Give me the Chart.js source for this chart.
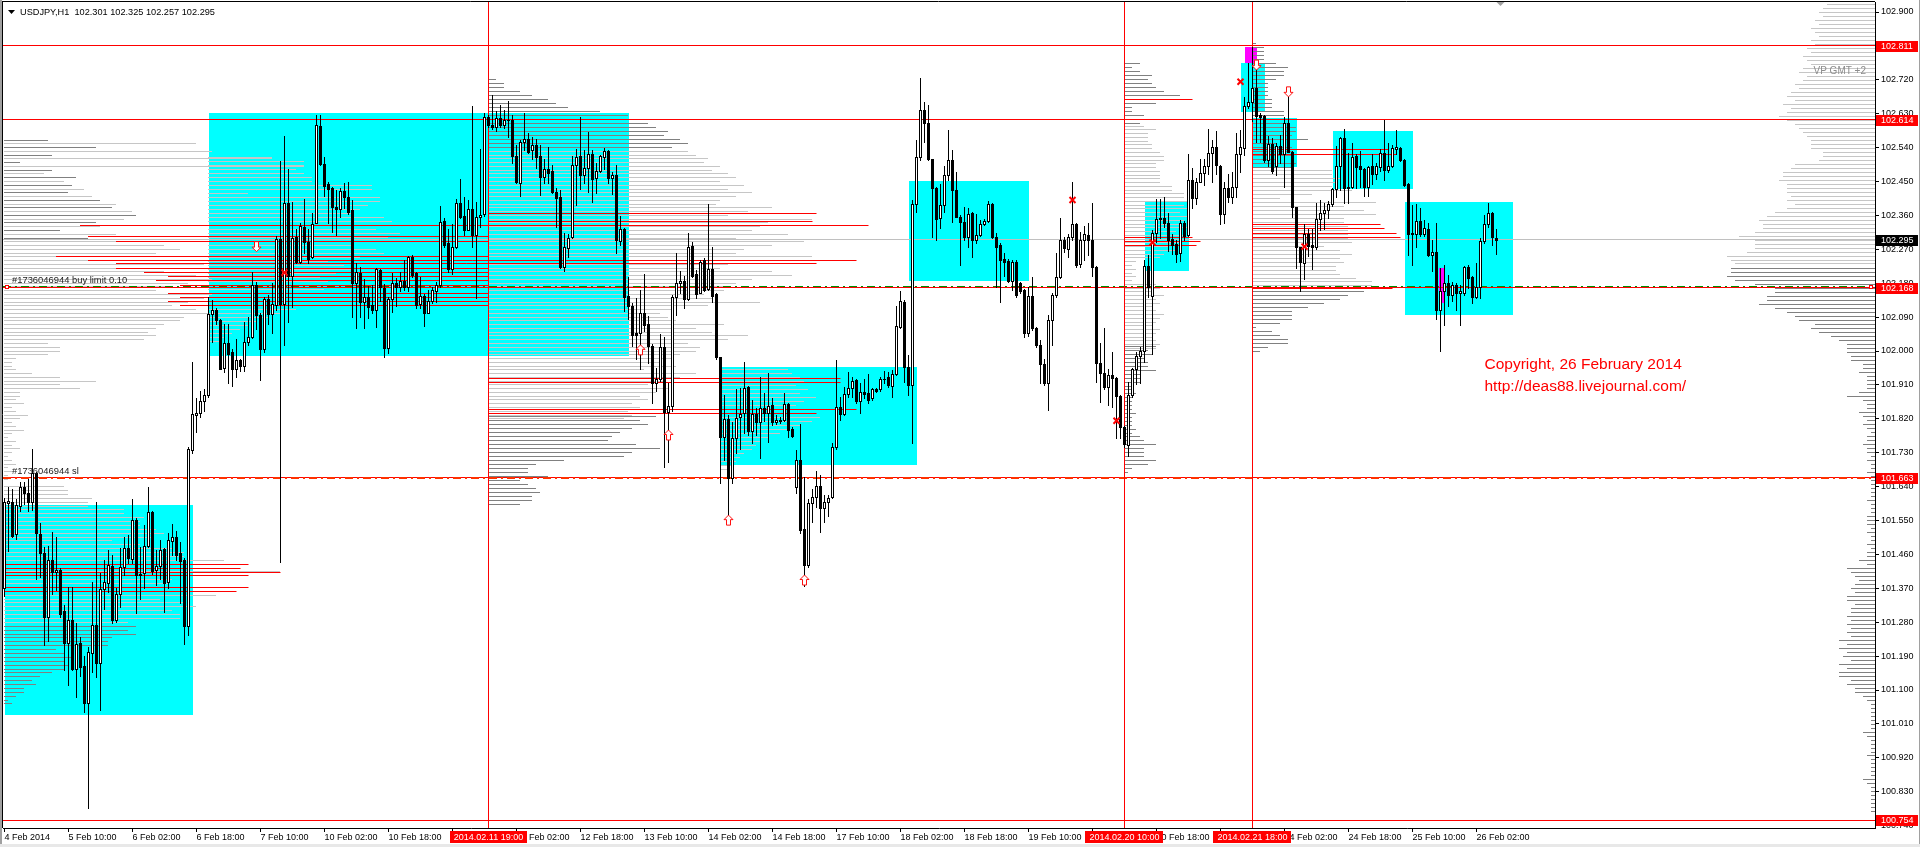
<!DOCTYPE html>
<html>
<head>
<meta charset="utf-8">
<script src="https://cdn.jsdelivr.net/npm/chart.js@4.4.1/dist/chart.umd.min.js"></script>
<style>
  html, body { margin: 0; padding: 0; background: #fff; overflow: hidden; }
  canvas { display: block; }
</style>
</head>
<body>
<canvas id="usdjpyChart" width="1920" height="847"></canvas>
<script>
// USDJPY H1, 4 Feb 18:00 .. 26 Feb 07:00 (one bar per hour, weekends skipped)
const opens = [
  101.37, 101.596, 101.60, 101.513, 101.588, 101.638, 101.622, 101.60, 101.675, 101.514,
  101.465, 101.293, 101.445, 101.413, 101.418, 101.31, 101.224, 101.286, 101.157, 101.225,
  101.163, 101.066, 101.197, 101.272, 101.172, 101.367, 101.385, 101.429, 101.286, 101.355,
  101.427, 101.476, 101.447, 101.551, 101.405, 101.41, 101.482, 101.572, 101.418, 101.428,
  101.474, 101.388, 101.496, 101.507, 101.463, 101.445, 101.27, 101.736, 101.83, 101.836,
  101.866, 101.882, 102.098, 102.11, 102.083, 101.955, 102.02, 101.998, 101.953, 101.977,
  101.961, 102.025, 102.037, 102.175, 102.096, 102.004, 102.138, 102.098, 102.122, 102.297,
  102.126, 102.394, 102.199, 102.303, 102.235, 102.33, 102.29, 102.25, 102.341, 102.597,
  102.497, 102.443, 102.432, 102.383, 102.376, 102.425, 102.41, 102.374, 102.18, 102.208,
  102.131, 102.144, 102.122, 102.11, 102.215, 102.166, 102.007, 102.137, 102.181, 102.171,
  102.187, 102.171, 102.25, 102.208, 102.126, 102.146, 102.102, 102.133, 102.158, 102.175,
  102.346, 102.286, 102.219, 102.277, 102.392, 102.358, 102.321, 102.376, 102.308, 102.355,
  102.363, 102.622, 102.60, 102.594, 102.618, 102.60, 102.614, 102.613, 102.518, 102.447,
  102.556, 102.562, 102.533, 102.547, 102.518, 102.461, 102.482, 102.478, 102.423, 102.408,
  102.224, 102.273, 102.302, 102.494, 102.518, 102.467, 102.485, 102.523, 102.458, 102.479,
  102.516, 102.531, 102.458, 102.467, 102.293, 102.323, 102.146, 102.12, 102.047, 102.047,
  102.102, 102.072, 102.013, 101.916, 101.925, 102.011, 101.839, 101.854, 102.143, 102.18,
  102.187, 102.137, 102.279, 102.204, 102.155, 102.242, 102.164, 102.219, 102.151, 101.983,
  101.773, 101.819, 101.662, 101.768, 101.824, 101.836, 101.904, 101.788, 101.833, 101.812,
  101.85, 101.836, 101.857, 101.812, 101.818, 101.818, 101.859, 101.792, 101.64, 101.711,
  101.527, 101.432, 101.597, 101.612, 101.642, 101.582, 101.60, 101.612, 101.746, 101.852,
  101.834, 101.886, 101.903, 101.923, 101.866, 101.89, 101.888, 101.874, 101.898, 101.898,
  101.927, 101.93, 101.907, 101.939, 102.064, 102.131, 101.957, 101.91, 102.39, 102.514,
  102.64, 102.604, 102.509, 102.432, 102.352, 102.387, 102.467, 102.507, 102.427, 102.355,
  102.343, 102.302, 102.367, 102.295, 102.308, 102.338, 102.345, 102.39, 102.302, 102.281,
  102.243, 102.239, 102.186, 102.237, 102.18, 102.162, 102.047, 102.146, 102.06, 102.016,
  101.965, 101.914, 102.081, 102.149, 102.196, 102.295, 102.27, 102.302, 102.337, 102.231,
  102.295, 102.308, 102.296, 102.224, 101.967, 101.941, 101.905, 101.936, 101.928, 101.881,
  101.799, 101.75, 101.883, 101.951, 101.987, 102.001, 102.226, 102.146, 102.312, 102.35,
  102.352, 102.341, 102.297, 102.284, 102.259, 102.339, 102.308, 102.454, 102.405, 102.45,
  102.472, 102.49, 102.525, 102.541, 102.492, 102.364, 102.432, 102.41, 102.435, 102.523,
  102.538, 102.65, 102.662, 102.697, 102.626, 102.624, 102.507, 102.55, 102.49, 102.544,
  102.523, 102.606, 102.529, 102.381, 102.275, 102.233, 102.311, 102.282, 102.275, 102.35,
  102.367, 102.374, 102.39, 102.429, 102.491, 102.565, 102.436, 102.436, 102.518, 102.491,
  102.482, 102.436, 102.49, 102.47, 102.489, 102.525, 102.481, 102.491, 102.536, 102.538,
  102.507, 102.443, 102.314, 102.311, 102.346, 102.311, 102.323, 102.255, 102.264, 102.11,
  102.158, 102.18, 102.149, 102.175, 102.153, 102.153, 102.222, 102.196, 102.144, 102.17,
  102.293, 102.337, 102.367, 102.301
];
const highs = [
  101.61, 101.64, 101.633, 101.606, 101.653, 101.651, 101.66, 101.741, 101.68, 101.544,
  101.48, 101.482, 101.52, 101.507, 101.423, 101.326, 101.374, 101.374, 101.279, 101.241,
  101.19, 101.215, 101.387, 101.60, 101.411, 101.445, 101.472, 101.458, 101.37, 101.476,
  101.507, 101.511, 101.606, 101.556, 101.479, 101.537, 101.64, 101.576, 101.471, 101.498,
  101.476, 101.518, 101.54, 101.523, 101.494, 101.45, 101.745, 101.97, 101.876, 101.894,
  101.898, 102.144, 102.135, 102.114, 102.086, 102.071, 102.073, 102.004, 102.031, 101.98,
  102.077, 102.09, 102.211, 102.183, 102.102, 102.144, 102.15, 102.181, 102.305, 102.504,
  102.571, 102.483, 102.396, 102.325, 102.34, 102.403, 102.325, 102.366, 102.627, 102.627,
  102.516, 102.45, 102.436, 102.427, 102.432, 102.447, 102.45, 102.401, 102.234, 102.224,
  102.19, 102.172, 102.175, 102.221, 102.217, 102.177, 102.144, 102.206, 102.193, 102.21,
  102.241, 102.252, 102.255, 102.21, 102.197, 102.151, 102.162, 102.171, 102.184, 102.385,
  102.352, 102.325, 102.337, 102.403, 102.456, 102.408, 102.401, 102.65, 102.396, 102.535,
  102.633, 102.627, 102.68, 102.638, 102.653, 102.64, 102.664, 102.627, 102.547, 102.56,
  102.631, 102.578, 102.569, 102.564, 102.547, 102.511, 102.542, 102.494, 102.432, 102.427,
  102.312, 102.31, 102.518, 102.535, 102.62, 102.533, 102.582, 102.533, 102.50, 102.52,
  102.54, 102.533, 102.476, 102.494, 102.358, 102.326, 102.196, 102.128, 102.142, 102.162,
  102.204, 102.093, 102.019, 101.954, 102.045, 102.038, 101.916, 102.149, 102.261, 102.213,
  102.199, 102.312, 102.29, 102.215, 102.242, 102.246, 102.39, 102.277, 102.153, 101.985,
  101.883, 101.83, 101.812, 101.898, 101.901, 101.97, 101.907, 101.87, 101.848, 101.93,
  101.888, 101.941, 101.874, 101.83, 101.826, 101.888, 101.861, 101.799, 101.737, 101.806,
  101.666, 101.606, 101.633, 101.682, 101.671, 101.618, 101.618, 101.757, 101.976, 101.879,
  101.905, 101.945, 101.932, 101.927, 101.916, 101.927, 101.939, 101.901, 101.903, 101.932,
  101.948, 101.945, 101.95, 102.12, 102.16, 102.135, 101.989, 102.40, 102.56, 102.724,
  102.662, 102.653, 102.51, 102.436, 102.443, 102.491, 102.587, 102.534, 102.476, 102.361,
  102.383, 102.379, 102.37, 102.365, 102.348, 102.35, 102.399, 102.392, 102.312, 102.286,
  102.259, 102.243, 102.242, 102.242, 102.184, 102.164, 102.169, 102.197, 102.065, 102.029,
  101.978, 102.096, 102.153, 102.261, 102.352, 102.303, 102.311, 102.449, 102.339, 102.317,
  102.332, 102.339, 102.392, 102.226, 102.02, 102.06, 101.951, 101.998, 101.932, 101.883,
  101.80, 101.918, 101.954, 101.998, 102.01, 102.242, 102.255, 102.321, 102.403, 102.403,
  102.41, 102.366, 102.31, 102.296, 102.348, 102.346, 102.522, 102.485, 102.46, 102.51,
  102.51, 102.589, 102.56, 102.585, 102.494, 102.45, 102.47, 102.474, 102.578, 102.587,
  102.675, 102.764, 102.808, 102.768, 102.631, 102.627, 102.571, 102.565, 102.553, 102.573,
  102.62, 102.689, 102.532, 102.383, 102.277, 102.337, 102.323, 102.323, 102.392, 102.401,
  102.394, 102.399, 102.434, 102.544, 102.567, 102.589, 102.526, 102.551, 102.523, 102.532,
  102.485, 102.491, 102.523, 102.498, 102.536, 102.613, 102.551, 102.547, 102.587, 102.541,
  102.509, 102.445, 102.388, 102.39, 102.379, 102.348, 102.341, 102.295, 102.341, 102.22,
  102.228, 102.202, 102.184, 102.18, 102.175, 102.226, 102.228, 102.199, 102.233, 102.301,
  102.36, 102.394, 102.37, 102.325
];
const lows = [
  101.35, 101.47, 101.505, 101.50, 101.576, 101.595, 101.576, 101.578, 101.396, 101.401,
  101.22, 101.231, 101.355, 101.365, 101.295, 101.153, 101.113, 101.153, 101.082, 101.137,
  101.042, 100.786, 101.148, 101.135, 101.048, 101.314, 101.361, 101.279, 101.281, 101.321,
  101.405, 101.436, 101.436, 101.305, 101.342, 101.37, 101.479, 101.408, 101.38, 101.396,
  101.308, 101.37, 101.458, 101.445, 101.33, 101.222, 101.246, 101.73, 101.785, 101.825,
  101.84, 101.878, 102.025, 102.071, 101.952, 101.943, 101.915, 101.907, 101.931, 101.947,
  101.947, 102.016, 102.035, 102.059, 101.922, 101.998, 102.071, 102.047, 102.11, 101.44,
  102.016, 102.077, 102.118, 102.233, 102.233, 102.259, 102.233, 102.246, 102.339, 102.494,
  102.412, 102.339, 102.317, 102.308, 102.355, 102.379, 102.364, 102.091, 102.06, 102.091,
  102.06, 102.087, 102.10, 102.064, 102.134, 101.985, 101.994, 102.104, 102.12, 102.158,
  102.162, 102.158, 102.197, 102.113, 102.113, 102.066, 102.10, 102.128, 102.131, 102.171,
  102.277, 102.21, 102.204, 102.273, 102.352, 102.308, 102.32, 102.275, 102.14, 102.33,
  102.358, 102.596, 102.589, 102.583, 102.594, 102.591, 102.569, 102.50, 102.447, 102.411,
  102.533, 102.525, 102.511, 102.485, 102.414, 102.445, 102.445, 102.42, 102.328, 102.22,
  102.213, 102.249, 102.299, 102.387, 102.429, 102.445, 102.423, 102.396, 102.42, 102.476,
  102.482, 102.445, 102.418, 102.261, 102.282, 102.105, 102.084, 102.013, 101.978, 101.951,
  102.054, 101.967, 101.863, 101.895, 101.921, 101.691, 101.706, 101.842, 102.096, 102.155,
  102.113, 102.135, 102.197, 102.14, 102.153, 102.16, 102.162, 102.131, 101.98, 101.649,
  101.711, 101.565, 101.649, 101.73, 101.739, 101.781, 101.777, 101.757, 101.777, 101.715,
  101.815, 101.759, 101.803, 101.806, 101.808, 101.815, 101.771, 101.771, 101.624, 101.516,
  101.376, 101.427, 101.547, 101.587, 101.52, 101.547, 101.562, 101.609, 101.739, 101.818,
  101.83, 101.879, 101.877, 101.863, 101.836, 101.874, 101.861, 101.87, 101.892, 101.895,
  101.916, 101.905, 101.877, 101.936, 102.06, 101.919, 101.883, 101.755, 102.37, 102.507,
  102.556, 102.507, 102.303, 102.295, 102.326, 102.37, 102.454, 102.343, 102.357, 102.228,
  102.295, 102.277, 102.25, 102.286, 102.305, 102.334, 102.343, 102.30, 102.171, 102.131,
  102.198, 102.184, 102.162, 102.144, 102.153, 102.036, 102.04, 102.057, 102.011, 101.916,
  101.91, 101.843, 102.016, 102.144, 102.193, 102.264, 102.25, 102.295, 102.224, 102.222,
  102.241, 102.255, 102.199, 101.918, 101.865, 101.90, 101.857, 101.852, 101.768, 101.768,
  101.746, 101.721, 101.879, 101.912, 101.916, 101.972, 102.144, 101.992, 102.29, 102.30,
  102.33, 102.266, 102.257, 102.235, 102.24, 102.295, 102.305, 102.38, 102.389, 102.45,
  102.44, 102.47, 102.45, 102.47, 102.336, 102.34, 102.396, 102.393, 102.41, 102.476,
  102.52, 102.645, 102.61, 102.556, 102.556, 102.503, 102.491, 102.473, 102.467, 102.50,
  102.436, 102.527, 102.355, 102.22, 102.158, 102.19, 102.252, 102.217, 102.27, 102.321,
  102.323, 102.352, 102.385, 102.41, 102.428, 102.394, 102.394, 102.434, 102.432, 102.436,
  102.412, 102.412, 102.443, 102.456, 102.479, 102.454, 102.476, 102.488, 102.523, 102.505,
  102.438, 102.255, 102.228, 102.277, 102.305, 102.305, 102.252, 102.213, 102.084, 102.001,
  102.069, 102.12, 102.134, 102.11, 102.069, 102.149, 102.166, 102.128, 102.142, 102.142,
  102.286, 102.33, 102.281, 102.257
];
const closes = [
  101.60, 101.601, 101.508, 101.591, 101.638, 101.622, 101.598, 101.675, 101.516, 101.465,
  101.293, 101.445, 101.414, 101.418, 101.303, 101.226, 101.286, 101.156, 101.222, 101.162,
  101.066, 101.201, 101.272, 101.172, 101.367, 101.387, 101.431, 101.286, 101.355, 101.426,
  101.476, 101.45, 101.551, 101.405, 101.408, 101.482, 101.572, 101.417, 101.429, 101.471,
  101.385, 101.498, 101.507, 101.458, 101.443, 101.27, 101.739, 101.833, 101.836, 101.866,
  101.882, 102.098, 102.11, 102.083, 101.953, 102.02, 101.992, 101.953, 101.976, 101.961,
  102.025, 102.037, 102.175, 102.096, 102.004, 102.138, 102.098, 102.126, 102.297, 102.126,
  102.394, 102.199, 102.30, 102.237, 102.332, 102.29, 102.243, 102.336, 102.60, 102.497,
  102.438, 102.43, 102.381, 102.376, 102.425, 102.408, 102.37, 102.18, 102.211, 102.131,
  102.144, 102.118, 102.11, 102.217, 102.169, 102.007, 102.137, 102.181, 102.171, 102.187,
  102.171, 102.25, 102.202, 102.122, 102.146, 102.10, 102.133, 102.162, 102.175, 102.343,
  102.281, 102.219, 102.275, 102.394, 102.357, 102.321, 102.376, 102.308, 102.357, 102.362,
  102.62, 102.60, 102.594, 102.618, 102.60, 102.614, 102.612, 102.518, 102.45, 102.556,
  102.564, 102.529, 102.547, 102.516, 102.461, 102.482, 102.473, 102.423, 102.405, 102.222,
  102.275, 102.299, 102.494, 102.514, 102.467, 102.485, 102.523, 102.456, 102.479, 102.518,
  102.531, 102.458, 102.467, 102.295, 102.323, 102.143, 102.12, 102.043, 102.043, 102.10,
  102.069, 102.012, 101.916, 101.925, 102.011, 101.839, 101.854, 102.143, 102.18, 102.187,
  102.137, 102.277, 102.199, 102.151, 102.237, 102.162, 102.219, 102.146, 101.983, 101.773,
  101.819, 101.662, 101.768, 101.821, 101.834, 101.901, 101.788, 101.833, 101.812, 101.85,
  101.835, 101.854, 101.812, 101.818, 101.815, 101.859, 101.79, 101.774, 101.711, 101.525,
  101.432, 101.597, 101.612, 101.642, 101.582, 101.60, 101.609, 101.746, 101.852, 101.834,
  101.886, 101.901, 101.921, 101.866, 101.89, 101.886, 101.87, 101.898, 101.895, 101.927,
  101.926, 101.91, 101.939, 102.066, 102.134, 101.957, 101.91, 102.39, 102.514, 102.64,
  102.604, 102.509, 102.432, 102.35, 102.387, 102.467, 102.507, 102.427, 102.357, 102.343,
  102.302, 102.365, 102.295, 102.308, 102.338, 102.345, 102.39, 102.302, 102.277, 102.242,
  102.237, 102.186, 102.237, 102.149, 102.16, 102.047, 102.146, 102.06, 102.016, 101.965,
  101.914, 102.082, 102.149, 102.196, 102.295, 102.273, 102.302, 102.337, 102.228, 102.295,
  102.311, 102.296, 102.222, 101.967, 101.941, 101.905, 101.936, 101.928, 101.881, 101.799,
  101.753, 101.883, 101.951, 101.987, 102.001, 102.226, 102.171, 102.312, 102.35, 102.353,
  102.341, 102.295, 102.282, 102.257, 102.339, 102.305, 102.454, 102.405, 102.45, 102.472,
  102.49, 102.525, 102.541, 102.494, 102.364, 102.432, 102.41, 102.435, 102.523, 102.541,
  102.65, 102.662, 102.697, 102.624, 102.621, 102.507, 102.55, 102.479, 102.544, 102.523,
  102.606, 102.529, 102.381, 102.275, 102.235, 102.311, 102.279, 102.275, 102.35, 102.367,
  102.374, 102.39, 102.429, 102.491, 102.565, 102.432, 102.432, 102.516, 102.488, 102.482,
  102.436, 102.488, 102.47, 102.491, 102.525, 102.481, 102.491, 102.538, 102.541, 102.507,
  102.441, 102.311, 102.311, 102.346, 102.311, 102.326, 102.255, 102.264, 102.11, 102.158,
  102.18, 102.149, 102.175, 102.153, 102.16, 102.222, 102.193, 102.144, 102.17, 102.293,
  102.337, 102.367, 102.302, 102.295
];

// axis ticks
const yTicks = [100.74, 100.83, 100.92, 101.01, 101.10, 101.19, 101.28, 101.37, 101.46, 101.55,
  101.64, 101.73, 101.82, 101.91, 102.00, 102.09, 102.18, 102.27, 102.36, 102.45,
  102.54, 102.63, 102.72, 102.81, 102.90];
const xTickIdx = [0, 16, 32, 48, 64, 80, 96, 112, 128, 144, 160, 176, 192, 208, 224, 240,
  256, 272, 288, 304, 320, 336, 352, 368];
const xTickLabels = ['4 Feb 2014', '5 Feb 10:00', '6 Feb 02:00', '6 Feb 18:00', '7 Feb 10:00',
  '10 Feb 02:00', '10 Feb 18:00', '11 Feb 10:00', '12 Feb 02:00', '12 Feb 18:00', '13 Feb 10:00',
  '14 Feb 02:00', '14 Feb 18:00', '17 Feb 10:00', '18 Feb 02:00', '18 Feb 18:00', '19 Feb 10:00',
  '20 Feb 02:00', '20 Feb 18:00', '21 Feb 10:00', '24 Feb 02:00', '24 Feb 18:00', '25 Feb 10:00',
  '26 Feb 02:00'];

// levels and objects
const hLevels = [102.811, 102.614, 100.754];
const orderPrice = 102.168;
const slPrice = 101.663;
const bidPrice = 102.295;
const vLineIdx = [121, 280, 312];
const vLineLabels = ['2014.02.11 19:00', '2014.02.20 10:00', '2014.02.21 18:00'];
const priceMarks = [102.811, 102.614, 102.168, 101.663, 100.754];
// [fromBar, toBar, priceTop, priceBottom]
const cyanBoxes = [
  [0, 47, 101.591, 101.034], [51, 156, 102.633, 101.988], [179, 228, 101.957, 101.697],
  [226, 256, 102.451, 102.186], [285, 296, 102.396, 102.213], [309, 315, 102.764, 102.635],
  [312, 323, 102.618, 102.488], [332, 352, 102.584, 102.430], [350, 377, 102.396, 102.096]
];
const magentaBoxes = [[310, 313, 102.806, 102.764], [358.6, 360.1, 102.22, 102.128]];
// [fromBar, toBar, price]
const redSegs = [
  [0, 61, 101.434], [0, 59, 101.423], [0, 69, 101.412], [0, 61, 101.403], [0, 61, 101.372], [0, 58, 101.361],
  [19, 216, 102.334], [21, 121, 102.303], [28, 121, 102.290], [13, 121, 102.252], [21, 213, 102.241],
  [28, 203, 102.231], [28, 121, 102.219], [35, 121, 102.209], [41, 121, 102.197], [38, 121, 102.187],
  [44, 121, 102.175], [41, 121, 102.153], [44, 121, 102.142], [41, 121, 102.131], [44, 121, 102.120],
  [121, 203, 102.366], [121, 202, 102.345],
  [121, 209, 101.927], [121, 209, 101.917], [121, 213, 101.845], [121, 203, 101.835],
  [280, 297, 102.668], [280, 297, 102.302], [280, 299, 102.291], [280, 298, 102.280],
  [312, 346, 102.534], [312, 348, 102.523], [312, 344, 102.335], [312, 345, 102.324],
  [312, 348, 102.313], [312, 349, 102.302]
];
const redThick = [[312, 347, 102.169]];
const upArrows = [[159, 102.003], [166, 101.777], [181, 101.551], [200, 101.392]];
const downArrows = [[63, 102.277], [313, 102.759], [321, 102.688]];
const crosses = [[70, 102.208], [267, 102.401], [278, 101.815], [309, 102.715], [287, 102.288], [325, 102.277]];

// volume profiles, in bars of length, listed from the top price down
const pLeftDark = [11, 23, 12, 4, 12, 18, 17, 16, 24, 27, 33, 23, 14, 21];
const pLeftLightTop = [48, 52, 67, 75, 10, 15, 20, 22, 28, 32, 30, 24, 28, 34];
const pLeft = [40, 44, 38, 42, 46, 50, 44, 40, 48, 52, 46, 42, 38,
  52, 50, 46, 42, 48, 51, 45, 44, 40, 38, 36, 38, 35,
  11, 14, 14, 11, 3, 2, 2, 3, 7, 14, 23, 14, 19, 4, 4, 3, 5, 2, 3, 6, 4, 2, 3, 5, 2, 1, 3, 2, 4, 2, 1, 2, 3, 1, 2, 1, 1];
const pBox1Light = [15, 16, 16, 22, 21, 21, 30, 30, 35, 34, 34, 38, 40, 37, 27, 34, 42, 45, 45, 55,
  61, 59, 69, 61, 42, 41, 61, 58, 53, 39, 45, 48, 42, 44, 44, 31];
const pBox1Dark = [33, 31, 33, 27, 26, 26, 13, 15, 17, 15, 16, 15, 12, 9, 7, 8, 5, 5, 3, 1, 2];
const pBox2 = [16, 24, 24, 22, 24, 26, 26, 41, 41, 10, 43, 43, 40, 38, 36, 44, 46, 40, 42, 48, 45, 40,
  36, 42, 44, 38, 30, 34, 36, 32, 28, 30, 32, 29, 27, 26, 29, 24, 22, 18, 15, 12, 10, 8, 6, 4, 3];
const pBigTop = [2, 4, 4, 8, 11, 15, 17, 20, 28, 35, 38, 40, 42, 45, 44, 48, 50, 46];
const pBigMid = [50, 52, 55, 54, 58, 56, 60, 62, 58, 64, 60, 66, 62, 58,
  57, 71, 65, 60, 81, 70, 68, 66, 75, 62, 79, 71, 64, 62, 81,
  71, 60, 58, 71, 76, 66, 62, 60, 59, 54, 56, 68, 55, 46, 43, 45, 47, 59, 52, 56,
  65, 60, 50, 53, 52, 48, 46, 43, 47, 39, 52, 48, 44, 40, 45, 42, 38, 40, 36, 38, 35, 36, 34];
const pBigLow = [42, 38, 40, 36, 33, 31, 30, 37, 43, 36, 34, 19, 12, 10, 10, 15, 8, 10, 12, 13, 11, 11, 8];
const pBox3 = [17, 18, 20, 21, 19, 22, 20, 24, 21, 19, 18, 22, 25, 23, 20, 18, 15, 12, 10, 9, 8, 6, 5, 4, 3, 2];
const pFeb20Top = [4, 2, 4, 7, 6, 7, 8, 10, 14, 17, 8, 2, 2, 5, 4, 4];
const pFeb20Mid = [5, 8, 6, 6, 6, 7, 7, 9, 10, 10, 8, 8, 9, 9, 9, 9, 12, 12, 15, 15, 16, 15, 16, 14, 16,
  15, 14, 16, 13, 15, 12, 14, 11, 13, 10, 9, 3, 2, 3, 2, 3, 2, 8, 9, 7, 10, 8, 9, 7, 8, 10, 9, 8, 7, 9, 8, 7, 8, 9, 8];
const pFeb20Low = [8, 6, 7, 5, 6, 6, 8, 4, 4, 4, 2, 2, 3, 2, 2, 2, 2, 3, 2, 2, 2, 3, 2, 4, 5, 8, 5, 5, 5, 8, 6, 2, 1];
const pFeb21Top = [1, 3, 3, 3, 3, 6, 9, 8, 8, 6, 4, 4, 4, 4, 5, 5, 5, 8, 8, 6, 9, 11, 11, 10, 14, 6, 10, 10, 10, 6, 11, 10];
const pFeb21Mid = [20, 20, 22, 21, 20, 25, 15, 7, 31, 23, 28, 31, 23, 23, 24, 24, 24, 24, 25, 18, 22, 25, 22, 23, 21, 21, 22, 26, 30, 30];
const pFeb21Low = [28, 24, 22, 18, 14, 10, 10, 10, 7, 1, 5, 7, 9, 9, 4, 2];
const pRightLight = [12, 13, 14, 13, 15, 14, 16, 15, 14, 16, 15, 17, 16, 18, 17, 16, 18, 19, 17, 18,
  20, 19, 21, 22, 20, 23, 21, 22, 24, 22, 20, 19, 18, 17, 16, 16,
  16, 13, 13, 14, 20, 21, 23, 23, 24, 22, 22, 22, 21, 22, 20, 22, 25, 27, 29, 28,
  28, 30, 34, 30, 30, 30, 32, 37, 36, 35];
const pRightDark = [36, 36, 37, 35, 30, 25, 25, 27, 27, 29, 25, 22, 20, 19, 15, 16, 14, 11, 9, 7,
  7, 7, 6, 6, 3, 3, 4, 2, 2, 2, 2, 4, 7,
  3, 2, 2, 4, 3, 2, 3, 2, 1, 2, 2, 3, 2,
  2, 1, 2, 1, 1, 2, 1, 1, 1, 1, 1, 1, 2, 1, 1, 1, 2, 2, 2, 1, 2, 1, 1, 2, 1, 2,
  2, 4, 2, 7, 6, 5, 4, 5, 6, 5, 7, 7, 5, 6, 6, 7, 6, 7, 6, 7, 6, 9, 7, 9, 7, 8, 6, 9, 7, 9,
  9, 6, 7, 5, 5, 3, 2, 1, 1, 1, 1, 1,
  1, 1, 3, 2, 1, 1, 1, 1, 2, 1, 1, 1, 1, 1, 3, 2, 1, 1, 1, 1, 1, 1, 1];

const LIGHT = '#c6c6c6';
const DARK = '#808080';
const FONT = '"Liberation Sans", Arial, sans-serif';

// anchor bar, top price, price step, side, colour
const profiles = [
  { vols: pLeftDark, bar: 0, top: 102.56, step: 0.02, side: 'right', color: DARK },
  { vols: pLeftLightTop, bar: 0, top: 102.55, step: 0.02, side: 'right', color: LIGHT },
  { vols: pLeft, bar: 0, top: 102.28, step: 0.01, side: 'right', color: LIGHT },
  { vols: pBox1Light, bar: 0, top: 101.64, step: 0.0103, side: 'right', color: LIGHT },
  { vols: pBox1Dark, bar: 0, top: 101.269, step: 0.0103, side: 'right', color: DARK },
  { vols: pBox2, bar: 51, top: 102.513, step: 0.0106, side: 'right', color: LIGHT },
  { vols: pBigTop, bar: 121, top: 102.72, step: 0.0106, side: 'right', color: DARK },
  { vols: pBigMid, bar: 121, top: 102.53, step: 0.01, side: 'right', color: LIGHT },
  { vols: pBigLow, bar: 121, top: 101.826, step: 0.0106, side: 'right', color: DARK },
  { vols: pBox3, bar: 179, top: 101.95, step: 0.0106, side: 'right', color: LIGHT },
  { vols: pFeb20Top, bar: 280, top: 102.764, step: 0.0106, side: 'right', color: DARK },
  { vols: pFeb20Mid, bar: 280, top: 102.597, step: 0.01, side: 'right', color: LIGHT },
  { vols: pFeb20Low, bar: 280, top: 102.011, step: 0.0104, side: 'right', color: DARK },
  { vols: pFeb21Top, bar: 312, top: 102.817, step: 0.0106, side: 'right', color: DARK },
  { vols: pFeb21Mid, bar: 312, top: 102.48, step: 0.0106, side: 'right', color: LIGHT },
  { vols: pFeb21Low, bar: 312, top: 102.157, step: 0.0106, side: 'right', color: DARK },
  { vols: pRightLight, bar: null, top: 102.92, step: 0.0106, side: 'left', color: LIGHT },
  { vols: pRightDark, bar: null, top: 102.218, step: 0.0106, side: 'left', color: DARK }
];

function drawArrow(ctx, x, y, up) {
  const s = up ? 1 : -1;
  ctx.beginPath();
  ctx.moveTo(x, y - 5 * s);
  ctx.lineTo(x + 4.5, y - 0.5 * s);
  ctx.lineTo(x + 2, y - 0.5 * s);
  ctx.lineTo(x + 2, y + 5 * s);
  ctx.lineTo(x - 2, y + 5 * s);
  ctx.lineTo(x - 2, y - 0.5 * s);
  ctx.lineTo(x - 4.5, y - 0.5 * s);
  ctx.closePath();
  ctx.fillStyle = '#ffffff';
  ctx.fill();
  ctx.strokeStyle = '#ff1010';
  ctx.lineWidth = 1;
  ctx.stroke();
}

const mt4Plugin = {
  id: 'mt4',
  beforeDraw(chart) {
    const { ctx, width, height } = chart;
    ctx.save();
    ctx.fillStyle = '#ffffff';
    ctx.fillRect(0, 0, width, height);
    ctx.restore();
  },
  beforeDatasetsDraw(chart) {
    const { ctx, chartArea: a } = chart;
    const xs = chart.scales.x, ys = chart.scales.y;
    const px = v => xs.getPixelForValue(v);
    const py = p => Math.floor(ys.getPixelForValue(p)) + 0.5;
    const unit = px(1) - px(0);

    ctx.save();
    ctx.beginPath();
    ctx.rect(a.left, a.top, a.right - a.left, a.bottom - a.top);
    ctx.clip();

    // rectangles
    ctx.fillStyle = '#00ffff';
    cyanBoxes.forEach(b => {
      const x1 = Math.round(px(b[0])), x2 = Math.round(px(b[1]));
      const y1 = Math.round(ys.getPixelForValue(b[2])), y2 = Math.round(ys.getPixelForValue(b[3]));
      ctx.fillRect(x1, y1, x2 - x1, y2 - y1);
    });
    ctx.fillStyle = '#ff00ff';
    magentaBoxes.forEach(b => {
      const x1 = Math.round(px(b[0])), x2 = Math.round(px(b[1]));
      const y1 = Math.round(ys.getPixelForValue(b[2])), y2 = Math.round(ys.getPixelForValue(b[3]));
      ctx.fillRect(x1, y1, x2 - x1, y2 - y1);
    });

    // profiles
    ctx.lineWidth = 1;
    profiles.forEach(pr => {
      ctx.strokeStyle = pr.color;
      ctx.beginPath();
      pr.vols.forEach((v, k) => {
        if (!v) return;
        const y = py(pr.top - k * pr.step);
        const len = v * unit;
        let x0, x1;
        if (pr.side === 'left') { x1 = a.right; x0 = a.right - len; }
        else { x0 = px(pr.bar) - 0.5; x1 = x0 + len; }
        ctx.moveTo(x0, y);
        ctx.lineTo(x1, y);
      });
      ctx.stroke();
    });

    // red volume levels
    ctx.strokeStyle = '#ff0000';
    ctx.beginPath();
    redSegs.forEach(s => {
      const y = py(s[2]);
      ctx.moveTo(px(s[0]) - 0.5, y);
      ctx.lineTo(px(s[1]), y);
    });
    ctx.stroke();
    ctx.lineWidth = 2;
    ctx.beginPath();
    redThick.forEach(s => {
      const y = Math.floor(ys.getPixelForValue(s[2])) + 1;
      ctx.moveTo(px(s[0]), y);
      ctx.lineTo(px(s[1]), y);
    });
    ctx.stroke();

    // bid line
    ctx.lineWidth = 1;
    ctx.strokeStyle = '#c0c0c0';
    ctx.beginPath();
    ctx.moveTo(a.left, py(bidPrice));
    ctx.lineTo(a.right, py(bidPrice));
    ctx.stroke();

    // horizontal red levels
    ctx.strokeStyle = '#ff0000';
    ctx.beginPath();
    hLevels.concat([orderPrice, slPrice]).forEach(p => {
      ctx.moveTo(a.left, py(p));
      ctx.lineTo(a.right, py(p));
    });
    ctx.stroke();

    // pending order line (green dash-dot) and stop loss (red dash-dot)
    ctx.setLineDash([8, 4, 2, 4]);
    ctx.strokeStyle = '#008c00';
    ctx.beginPath();
    ctx.moveTo(a.left, py(orderPrice) - 1);
    ctx.lineTo(a.right, py(orderPrice) - 1);
    ctx.stroke();
    ctx.strokeStyle = '#ff3200';
    ctx.lineWidth = 2;
    ctx.beginPath();
    ctx.moveTo(a.left, Math.floor(ys.getPixelForValue(slPrice)) + 1);
    ctx.lineTo(a.right, Math.floor(ys.getPixelForValue(slPrice)) + 1);
    ctx.stroke();
    ctx.setLineDash([]);
    ctx.lineWidth = 1;

    // vertical lines
    ctx.strokeStyle = '#ff0000';
    ctx.beginPath();
    vLineIdx.forEach(i => {
      ctx.moveTo(px(i), a.top);
      ctx.lineTo(px(i), a.bottom);
    });
    ctx.stroke();

    // candles
    for (let i = 0; i < closes.length; i++) {
      const o = opens[i], h = highs[i], l = lows[i], c = closes[i];
      const x = px(i);
      const yH = Math.round(ys.getPixelForValue(h));
      const yL = Math.round(ys.getPixelForValue(l));
      const yT = Math.round(ys.getPixelForValue(Math.max(o, c)));
      const yB = Math.round(ys.getPixelForValue(Math.min(o, c)));
      ctx.fillStyle = '#000000';
      ctx.fillRect(x - 0.5, yH, 1, yL - yH + 1);
      ctx.fillRect(x - 1.5, yT, 3, yB - yT + 1);
      if (c > o && yB - yT >= 2) {
        ctx.fillStyle = '#ffffff';
        ctx.fillRect(x - 0.5, yT + 1, 1, yB - yT - 1);
      }
    }

    // small order markers at the line ends
    ctx.strokeStyle = '#ff0000';
    ctx.fillStyle = '#ffffff';
    const oy = Math.floor(ys.getPixelForValue(orderPrice));
    ctx.fillRect(a.left + 2, oy - 2, 4, 4);
    ctx.strokeRect(a.left + 2.5, oy - 1.5, 3, 3);
    ctx.fillRect(a.right - 6, oy - 2, 4, 4);
    ctx.strokeRect(a.right - 5.5, oy - 1.5, 3, 3);

    // signals
    upArrows.forEach(m => drawArrow(ctx, px(m[0]), ys.getPixelForValue(m[1]), true));
    downArrows.forEach(m => drawArrow(ctx, px(m[0]), ys.getPixelForValue(m[1]), false));
    ctx.strokeStyle = '#ff0000';
    ctx.lineWidth = 2;
    ctx.beginPath();
    crosses.forEach(m => {
      const x = px(m[0]), y = ys.getPixelForValue(m[1]);
      ctx.moveTo(x - 3, y - 3); ctx.lineTo(x + 3, y + 3);
      ctx.moveTo(x + 3, y - 3); ctx.lineTo(x - 3, y + 3);
    });
    ctx.stroke();

    // texts on the chart
    ctx.textBaseline = 'middle';
    ctx.textAlign = 'left';
    ctx.fillStyle = '#1a1a1a';
    ctx.font = '9.4px ' + FONT;
    ctx.fillText('#1736046944 buy limit 0.10', a.left + 9, py(orderPrice) - 7);
    ctx.fillText('#1736046944 sl', a.left + 9, py(slPrice) - 6);
    ctx.fillStyle = '#ff0000';
    ctx.font = '15.5px ' + FONT;
    ctx.fillText('Copyright, 26 February 2014', px(370), ys.getPixelForValue(101.963));
    ctx.fillText('http://deas88.livejournal.com/', px(370), ys.getPixelForValue(101.904));
    ctx.fillStyle = '#8c8c8c';
    ctx.font = '10px ' + FONT;
    ctx.textAlign = 'right';
    ctx.fillText('VP GMT +2', a.right - 9, a.top + 69);

    // chart shift marker
    const sx = px(closes.length);
    ctx.fillStyle = '#a0a0a0';
    ctx.beginPath();
    ctx.moveTo(sx - 4, a.top);
    ctx.lineTo(sx + 4, a.top);
    ctx.lineTo(sx, a.top + 4);
    ctx.closePath();
    ctx.fill();
    ctx.restore();
  },
  afterDraw(chart) {
    const { ctx, chartArea: a, width, height } = chart;
    const xs = chart.scales.x, ys = chart.scales.y;
    ctx.save();
    // frame
    ctx.fillStyle = '#a0a0a0';
    ctx.fillRect(0, 0, 2, height);
    ctx.fillRect(width - 1, 0, 1, height);
    ctx.fillStyle = '#e8e8e8';
    ctx.fillRect(0, height - 3, width, 3);
    ctx.strokeStyle = '#000000';
    ctx.lineWidth = 1;
    ctx.beginPath();
    ctx.moveTo(2, 1.5); ctx.lineTo(a.right, 1.5);
    ctx.moveTo(2.5, 1); ctx.lineTo(2.5, a.bottom);
    ctx.stroke();

    // header
    ctx.fillStyle = '#000000';
    ctx.beginPath();
    ctx.moveTo(8, 10); ctx.lineTo(15, 10); ctx.lineTo(11.5, 14);
    ctx.closePath();
    ctx.fill();
    ctx.font = '9.2px ' + FONT;
    ctx.textBaseline = 'middle';
    ctx.textAlign = 'left';
    ctx.fillText('USDJPY,H1  ' + [opens, highs, lows, closes].map(s => s[s.length - 1].toFixed(3)).join(' '), 20, 12.5);

    // price marks on the right axis
    ctx.font = '9px ' + FONT;
    const markBox = (p, bg) => {
      const y = Math.round(ys.getPixelForValue(p));
      ctx.fillStyle = bg;
      ctx.fillRect(a.right + 1, y - 5, 42, 11);
      ctx.fillStyle = '#ffffff';
      ctx.fillText(p.toFixed(3), a.right + 6, y + 0.5);
    };
    priceMarks.forEach(p => markBox(p, '#ff0000'));
    markBox(bidPrice, '#000000');

    // time marks on the bottom axis
    ctx.textAlign = 'center';
    vLineIdx.forEach((i, k) => {
      const x = xs.getPixelForValue(i);
      const w = ctx.measureText(vLineLabels[k]).width + 8;
      ctx.fillStyle = '#ff0000';
      ctx.fillRect(Math.round(x - w / 2), a.bottom + 3, Math.round(w), 12);
      ctx.fillStyle = '#ffffff';
      ctx.fillText(vLineLabels[k], x, a.bottom + 9.5);
    });
    ctx.restore();
  }
};

new Chart(document.getElementById('usdjpyChart'), {
  type: 'line',
  data: {
    datasets: [{
      label: 'USDJPY,H1',
      data: closes.map((c, i) => ({ x: i, y: c })),
      showLine: false,
      pointRadius: 0,
      pointHoverRadius: 0
    }]
  },
  options: {
    responsive: false,
    animation: false,
    devicePixelRatio: 1,
    events: [],
    layout: { padding: { left: 3, top: 2, right: 0, bottom: 0 } },
    plugins: {
      legend: { display: false },
      tooltip: { enabled: false }
    },
    scales: {
      x: {
        type: 'linear',
        position: 'bottom',
        min: -0.375,
        max: 467.625,
        bounds: 'data',
        afterBuildTicks: s => { s.ticks = xTickIdx.map(v => ({ value: v })); },
        afterFit: s => { s.height = 19; s.paddingLeft = 0; s.paddingRight = 0; },
        border: { display: true, color: '#000000', width: 1 },
        grid: { drawOnChartArea: false, drawTicks: true, tickLength: 4, color: '#000000' },
        ticks: {
          autoSkip: false,
          maxRotation: 0,
          minRotation: 0,
          align: 'start',
          padding: 0,
          color: '#000000',
          font: { family: FONT, size: 9 },
          callback: (v, i) => xTickLabels[i]
        }
      },
      y: {
        type: 'linear',
        position: 'right',
        min: 100.73365,
        max: 102.92655,
        bounds: 'data',
        afterBuildTicks: s => { s.ticks = yTicks.map(v => ({ value: v })); },
        afterFit: s => { s.width = 45; s.paddingTop = 0; s.paddingBottom = 0; },
        border: { display: true, color: '#000000', width: 1 },
        grid: { drawOnChartArea: false, drawTicks: true, tickLength: 4, color: '#000000' },
        ticks: {
          autoSkip: false,
          padding: 2,
          color: '#000000',
          font: { family: FONT, size: 9 },
          callback: v => v.toFixed(3)
        }
      }
    }
  },
  plugins: [mt4Plugin]
});
</script>
</body>
</html>
